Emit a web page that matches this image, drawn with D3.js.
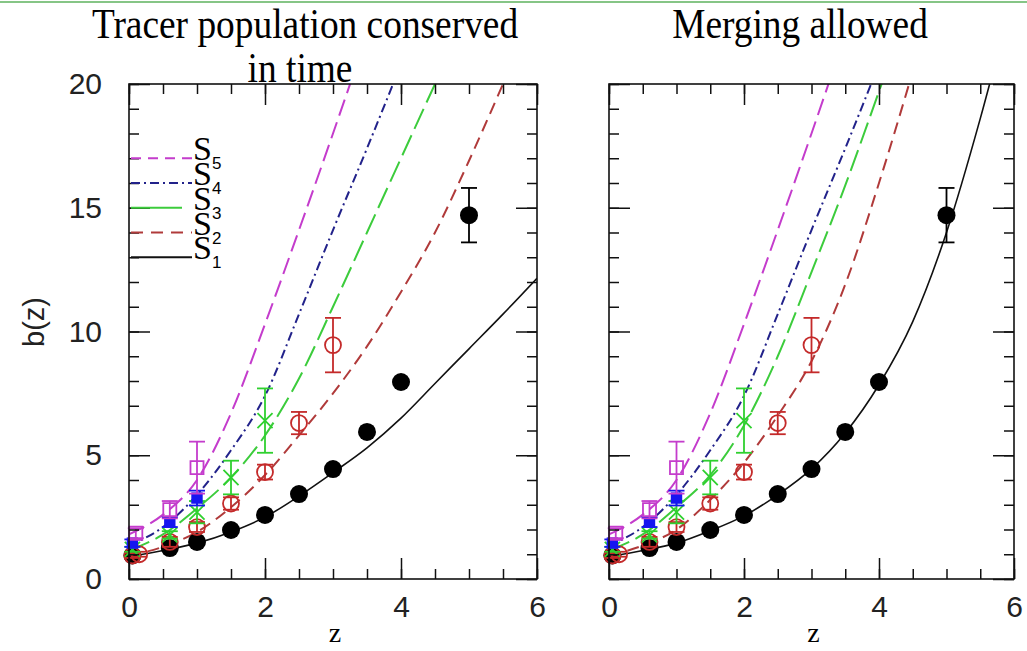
<!DOCTYPE html>
<html>
<head>
<meta charset="utf-8">
<script src="https://cdn.jsdelivr.net/npm/d3@7"></script>
<style>
  body { margin: 0; background: #fff; }
  svg { display: block; }
</style>
</head>
<body>
<div id="chart"></div>
<script>
// model curves, z grid shared by all curves
const curveZ = [0, 0.5, 1, 1.5, 2, 2.5, 3, 3.5, 4, 4.5, 5, 5.5, 6];

// left panel: tracer population conserved
const leftS1 = [0.9, 1.15, 1.45, 1.9, 2.5, 3.35, 4.3, 5.3, 6.5, 7.9, 9.3, 10.7, 12.15];
const leftS2 = [0.95, 1.3, 1.9, 2.9, 4.2, 5.8, 7.5, 9.4, 11.6, 14.0, 16.9, 20.0, 23.2];
const leftS3 = [1.15, 1.8, 2.85, 4.1, 5.8, 8.1, 11.0, 14.0, 17.0, 20.0, 23.0];
const leftS4 = [1.35, 2.1, 3.4, 5.2, 7.4, 10.7, 14.1, 17.4, 20.8];
const leftS5 = [1.8, 2.6, 4.0, 6.7, 10.3, 14.1, 18.0, 22.0];

// right panel: merging allowed
const rightS1 = [0.9, 1.15, 1.45, 1.95, 2.55, 3.4, 4.45, 5.9, 7.85, 10.4, 14.0, 18.6, 23.8];
const rightS2 = [0.95, 1.35, 2.0, 3.2, 4.7, 6.6, 8.8, 11.9, 16.0, 20.5];
const rightS3 = [1.15, 1.8, 2.9, 4.2, 6.2, 9.0, 12.4, 15.9, 19.7, 23.5];
const rightS4 = [1.35, 2.1, 3.4, 5.2, 7.4, 10.7, 14.1, 17.4, 20.8];
const rightS5 = [1.8, 2.6, 4.0, 6.7, 10.3, 14.1, 18.0, 22.0];

// measured points (same in both panels)
const blackZ = [0.05, 0.6, 1.0, 1.5, 2.0, 2.5, 3.0, 3.5, 4.0, 5.0];
const blackB = [0.95, 1.25, 1.5, 1.98, 2.59, 3.43, 4.44, 5.94, 7.96, 14.7];
const blackErr = [0, 0, 0, 0, 0, 0, 0, 0, 0, 1.1];

const redZ = [0.05, 0.15, 0.6, 1.0, 1.5, 2.0, 2.5, 3.0];
const redB = [0.95, 1.0, 1.5, 2.1, 3.05, 4.32, 6.3, 9.45];
const redErr = [0.1, 0.1, 0.2, 0.2, 0.25, 0.3, 0.45, 1.1];

const greenZ = [0.05, 0.6, 1.0, 1.5, 2.0];
const greenB = [1.2, 1.78, 2.7, 4.1, 6.4];
const greenErr = [0.1, 0.15, 0.45, 0.68, 1.3];

const blueZ = [0.05, 0.6, 1.0];
const blueB = [1.45, 2.3, 3.27];
const blueErr = [0.15, 0.2, 0.3];

const magZ = [0.1, 0.6, 1.0];
const magB = [1.85, 2.8, 4.5];
const magErr = [0.2, 0.35, 1.05];

const xMajor = [0, 2, 4, 6];
const xMinor = d3.range(0, 6.01, 0.5);
const yMajor = [0, 5, 10, 15, 20];
const yMinor = d3.range(0, 20.01, 1);

const legendNames = ["5", "4", "3", "2", "1"];
const legendRows = [17, 16, 15, 14, 13];

const colS1 = "#111", colS2 = "#b03a3a", colS3 = "#3ccc3c", colS4 = "#22228a", colS5 = "#c43ccc";
const dashS2 = "12,7", dashS3 = "22,7", dashS4 = "9,4,2,4", dashS5 = "17,7";

const W = 1027, H = 651;
const svg = d3.select("#chart").append("svg")
  .attr("width", W).attr("height", H)
  .style("background", "#fff");

// thin green rule at the very top
svg.append("line").attr("x1", 0).attr("x2", W).attr("y1", 2).attr("y2", 2)
  .attr("stroke", "#86c586").attr("stroke-width", 2);

const y = d3.scaleLinear().domain([0, 20]).range([579, 84]);

function drawPanel(id, x0, x1, curves, showYLabels) {
  const x = d3.scaleLinear().domain([0, 6]).range([x0, x1]);
  const g = svg.append("g");

  g.append("clipPath").attr("id", "clip" + id)
    .append("rect").attr("x", x0).attr("y", y(20))
    .attr("width", x1 - x0).attr("height", y(0) - y(20));

  // curves
  const line = d3.line()
    .x((d, i) => x(curveZ[i]))
    .y(d => y(d))
    .curve(d3.curveMonotoneX);

  const cg = g.append("g").attr("clip-path", `url(#clip${id})`);
  curves.forEach(c => {
    cg.append("path")
      .attr("d", line(c.values))
      .attr("fill", "none")
      .attr("stroke", c.color)
      .attr("stroke-width", c.width)
      .attr("stroke-dasharray", c.dash);
  });

  // error bars + markers
  function errBars(zs, bs, es, color) {
    const eg = g.append("g").attr("stroke", color).attr("stroke-width", 1.8);
    zs.forEach((z, i) => {
      if (!es[i]) return;
      eg.append("line").attr("x1", x(z)).attr("x2", x(z))
        .attr("y1", y(bs[i] - es[i])).attr("y2", y(bs[i] + es[i]));
      [bs[i] - es[i], bs[i] + es[i]].forEach(v => {
        eg.append("line").attr("x1", x(z) - 8).attr("x2", x(z) + 8)
          .attr("y1", y(v)).attr("y2", y(v));
      });
    });
  }

  errBars(blackZ, blackB, blackErr, "#000");
  g.selectAll(".blk").data(blackZ).enter().append("circle")
    .attr("cx", d => x(d)).attr("cy", (d, i) => y(blackB[i]))
    .attr("r", 9).attr("fill", "#000");

  errBars(redZ, redB, redErr, "#c42a2a");
  g.selectAll(".red").data(redZ).enter().append("circle")
    .attr("cx", d => x(d)).attr("cy", (d, i) => y(redB[i]))
    .attr("r", 8).attr("fill", "none").attr("stroke", "#c42a2a").attr("stroke-width", 1.8);

  errBars(greenZ, greenB, greenErr, "#2fd02f");
  g.selectAll(".grn").data(greenZ).enter().append("path")
    .attr("d", d3.symbol(d3.symbolX, 150))
    .attr("transform", (d, i) => `translate(${x(d)},${y(greenB[i])})`)
    .attr("fill", "none").attr("stroke", "#2fd02f").attr("stroke-width", 1.8);

  errBars(blueZ, blueB, blueErr, "#1515f0");
  g.selectAll(".blu").data(blueZ).enter().append("path")
    .attr("d", d3.symbol(d3.symbolSquare, 130))
    .attr("transform", (d, i) => `translate(${x(d)},${y(blueB[i])})`)
    .attr("fill", "#1515f0");

  errBars(magZ, magB, magErr, "#c43ccc");
  g.selectAll(".mag").data(magZ).enter().append("path")
    .attr("d", d3.symbol(d3.symbolSquare, 170))
    .attr("transform", (d, i) => `translate(${x(d)},${y(magB[i])})`)
    .attr("fill", "none").attr("stroke", "#c43ccc").attr("stroke-width", 1.8);

  // frame with inward ticks on all four sides
  function tickAxis(axis, pos, values, size) {
    const a = g.append("g").attr("transform", pos)
      .call(axis.tickValues(values).tickSize(size).tickFormat(""));
    a.select(".domain").remove();
    a.selectAll("line").attr("stroke", "#111").attr("stroke-width", 1.5);
    return a;
  }
  tickAxis(d3.axisBottom(x), `translate(0,${y(0)})`, xMinor, -10);
  tickAxis(d3.axisBottom(x), `translate(0,${y(0)})`, xMajor, -21);
  tickAxis(d3.axisTop(x), `translate(0,${y(20)})`, xMinor, -10);
  tickAxis(d3.axisTop(x), `translate(0,${y(20)})`, xMajor, -21);
  tickAxis(d3.axisLeft(y), `translate(${x0},0)`, yMinor, -10);
  tickAxis(d3.axisLeft(y), `translate(${x0},0)`, yMajor, -21);
  tickAxis(d3.axisRight(y), `translate(${x1},0)`, yMinor, -10);
  tickAxis(d3.axisRight(y), `translate(${x1},0)`, yMajor, -21);

  g.append("rect").attr("x", x0).attr("y", y(20))
    .attr("width", x1 - x0).attr("height", y(0) - y(20))
    .attr("fill", "none").attr("stroke", "#111").attr("stroke-width", 1.6);

  // tick labels
  const xl = g.append("g").attr("transform", `translate(0,${y(0)})`)
    .call(d3.axisBottom(x).tickValues(xMajor).tickSize(0).tickPadding(17).tickFormat(d3.format("d")));
  xl.select(".domain").remove();
  xl.selectAll("text").style("font-family", "Liberation Sans, Arial, sans-serif")
    .style("font-size", "30px").attr("fill", "#222");

  if (showYLabels) {
    const yl = g.append("g").attr("transform", `translate(${x0},0)`)
      .call(d3.axisLeft(y).tickValues(yMajor).tickSize(0).tickPadding(27).tickFormat(d3.format("d")));
    yl.select(".domain").remove();
    yl.selectAll("text").style("font-family", "Liberation Sans, Arial, sans-serif")
      .style("font-size", "30px").attr("fill", "#222");
  }

  g.append("text").attr("x", (x0 + x1) / 2 + 2).attr("y", 642)
    .attr("text-anchor", "middle")
    .style("font-family", "Liberation Serif, serif").style("font-size", "28px")
    .text("z");

  return x;
}

const leftCurves = [
  { values: leftS1, color: colS1, width: 1.6, dash: null },
  { values: leftS2, color: colS2, width: 2, dash: dashS2 },
  { values: leftS3, color: colS3, width: 2, dash: dashS3 },
  { values: leftS4, color: colS4, width: 2, dash: dashS4 },
  { values: leftS5, color: colS5, width: 2, dash: dashS5 }
];
const rightCurves = [
  { values: rightS1, color: colS1, width: 1.6, dash: null },
  { values: rightS2, color: colS2, width: 2, dash: dashS2 },
  { values: rightS3, color: colS3, width: 2, dash: dashS3 },
  { values: rightS4, color: colS4, width: 2, dash: dashS4 },
  { values: rightS5, color: colS5, width: 2, dash: dashS5 }
];

drawPanel("L", 129, 537, leftCurves, true);
drawPanel("R", 609, 1014, rightCurves, false);

// legend in the left panel
const legStyles = [
  { color: colS5, dash: "10,7" },
  { color: colS4, dash: dashS4 },
  { color: colS3, dash: "51,20" },
  { color: colS2, dash: "12,8" },
  { color: colS1, dash: null }
];
legendNames.forEach((n, i) => {
  const ly = y(legendRows[i]);
  svg.append("line").attr("x1", 131).attr("x2", 192).attr("y1", ly).attr("y2", ly)
    .attr("stroke", legStyles[i].color).attr("stroke-width", 2)
    .attr("stroke-dasharray", legStyles[i].dash);
  const t = svg.append("text").attr("x", 193).attr("y", ly + 2)
    .style("font-family", "Liberation Serif, serif").style("font-size", "34px");
  t.append("tspan").text("S");
  t.append("tspan").attr("dy", 9).style("font-size", "17px")
    .style("font-family", "Liberation Sans, Arial, sans-serif").text(n);
});

// y label
svg.append("text")
  .attr("transform", "translate(44,322) rotate(-90)")
  .attr("text-anchor", "middle")
  .style("font-family", "Liberation Sans, Arial, sans-serif").style("font-size", "29px")
  .attr("fill", "#222")
  .text("b(z)");

// panel titles
function title(txt, cx, by) {
  svg.append("text")
    .attr("transform", `translate(${cx},${by}) scale(0.89,1)`)
    .attr("text-anchor", "middle")
    .style("font-family", "Liberation Serif, Times New Roman, serif")
    .style("font-size", "42px")
    .text(txt);
}
title("Tracer population conserved", 305, 38);
title("in time", 300, 82);
title("Merging allowed", 800, 38);
</script>
</body>
</html>
